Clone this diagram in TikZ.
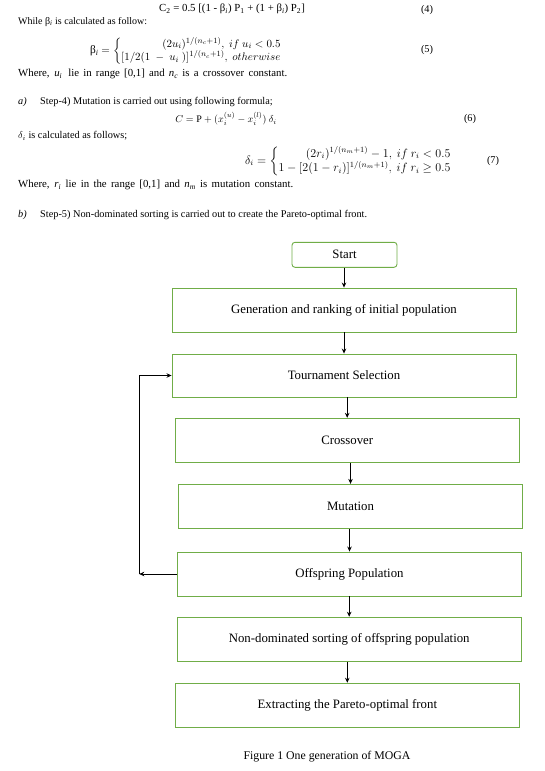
\documentclass[tikz,border=0pt]{standalone}
\usepackage{amsmath}
\usepackage{fontspec}
\setmainfont{Liberation Serif}
\usetikzlibrary{arrows.meta}
\definecolor{boxgreen}{RGB}{112,173,71}
\hbadness=10000
\begin{document}
\begin{tikzpicture}[x=1pt,y=-1pt,
  txt/.style={font=\fontsize{10.3}{12}\selectfont, inner sep=0pt},
  lt/.style={txt, anchor=west},
  eqs/.style={inner sep=0pt, anchor=west},
  box/.style={draw=boxgreen, line width=0.9pt, minimum width=344pt, minimum height=44pt, inner sep=0pt, font=\fontsize{12.8}{15}\selectfont},
  arr/.style={-{Stealth[length=5pt,width=4.5pt]}, line width=0.8pt}]
\fill[white] (0,0) rectangle (544,771);
\useasboundingbox (0,0) rectangle (544,771);

% text part
\node[txt, font=\fontsize{10.8}{12}\selectfont] (eq4) at (232,9) {C\textsubscript{2} = 0.5 [(1 - β\textsubscript{\textit{i}}) P\textsubscript{1} + (1 + β\textsubscript{\textit{i}}) P\textsubscript{2}]};
\node[txt] (n4) at (427,10) {(4)};
\node[lt, font=\fontsize{10}{12}\selectfont] (t1) at (18,22) {While β\textsubscript{\textit{i}} is calculated as follow:};
\node[eqs, font=\fontsize{11.3}{13}\selectfont] (eq5) at (90,51) {β\textsubscript{\textit{i}} $= \left\{\begin{array}{@{}r@{}} (2u_i)^{1/(n_c+1)},\ if\ u_i < 0.5\\ {}[1/2(1\ -\ u_i\ )]^{1/(n_c+1)},\ otherwise\end{array}\right.$};
\node[txt] (n5) at (427,50) {(5)};
\node[lt, font=\fontsize{10.8}{12}\selectfont] (t2) at (18,74) {\hbox to 269pt{Where, \textit{u\textsubscript{i}}\, lie in range [0,1] and \textit{n\textsubscript{c}} is a crossover constant.}};
\node[lt] (a) at (18,102) {\textit{a)}};
\node[lt] (t3) at (40,102) {Step-4) Mutation is carried out using following formula;};
\node[txt, font=\fontsize{10}{12}\selectfont] (eq6) at (226,119) {$C = \mathrm{P} + (x_i^{(u)} - x_i^{(l)})\ \delta_i$};
\node[txt] (n6) at (470,119) {(6)};
\node[lt] (t4) at (18,136) {$\delta_i$ is calculated as follows;};
\node[eqs, font=\fontsize{11.5}{13}\selectfont] (eq7) at (245,161) {$\delta_i = \left\{\begin{array}{@{}r@{}} (2r_i)^{1/(n_m+1)} - 1,\ if\ r_i < 0.5\\ 1-[2(1-r_i)]^{1/(n_m+1)},\ if\ r_i \geq 0.5\end{array}\right.$};
\node[txt] (n7) at (493,161) {(7)};
\node[lt, font=\fontsize{10.8}{12}\selectfont] (t5) at (18,185) {\hbox to 275pt{Where, \textit{r\textsubscript{i}} lie in the range [0,1] and \textit{n\textsubscript{m}} is mutation constant.}};
\node[lt] (b) at (18,215) {\textit{b)}};
\node[lt] (t6) at (40,215) {Step-5) Non-dominated sorting is carried out to create the Pareto-optimal front.};

% flowchart
\node[box, minimum width=105pt, minimum height=25pt, rounded corners=3pt] (start) at (344.5,254.8) {Start};
\node[box] (gen) at (344,310) {Generation and ranking of initial population};
\node[box, minimum height=43pt] (tour) at (344,375.5) {Tournament Selection};
\node[box] (cross) at (347.2,440.3) {Crossover};
\node[box] (mut) at (350.5,506.3) {Mutation};
\node[box] (off) at (349.5,574) {Offspring Population};
\node[box] (non) at (349.2,639.2) {Non-dominated sorting of offspring population};
\node[box] (ext) at (347.3,705.2) {Extracting the Pareto-optimal front};

\draw[arr] (gen.north |- start.south) -- (gen.north);
\draw[arr] (tour.north |- gen.south) -- (tour.north);
\draw[arr] (cross.north |- tour.south) -- (cross.north);
\draw[arr] (mut.north |- cross.south) -- (mut.north);
\draw[arr] (off.north |- mut.south) -- (off.north);
\draw[arr] (non.north |- off.south) -- (non.north);
\draw[arr] (ext.north |- non.south) -- (ext.north);

\coordinate (fb) at (139.3,574);
\draw[arr] (off.west) -- (fb);
\draw[arr] (fb) |- (tour.west);

\node[txt, font=\fontsize{11.8}{14}\selectfont] (cap) at (327,757) {Figure 1 One generation of MOGA};
\end{tikzpicture}
\end{document}
